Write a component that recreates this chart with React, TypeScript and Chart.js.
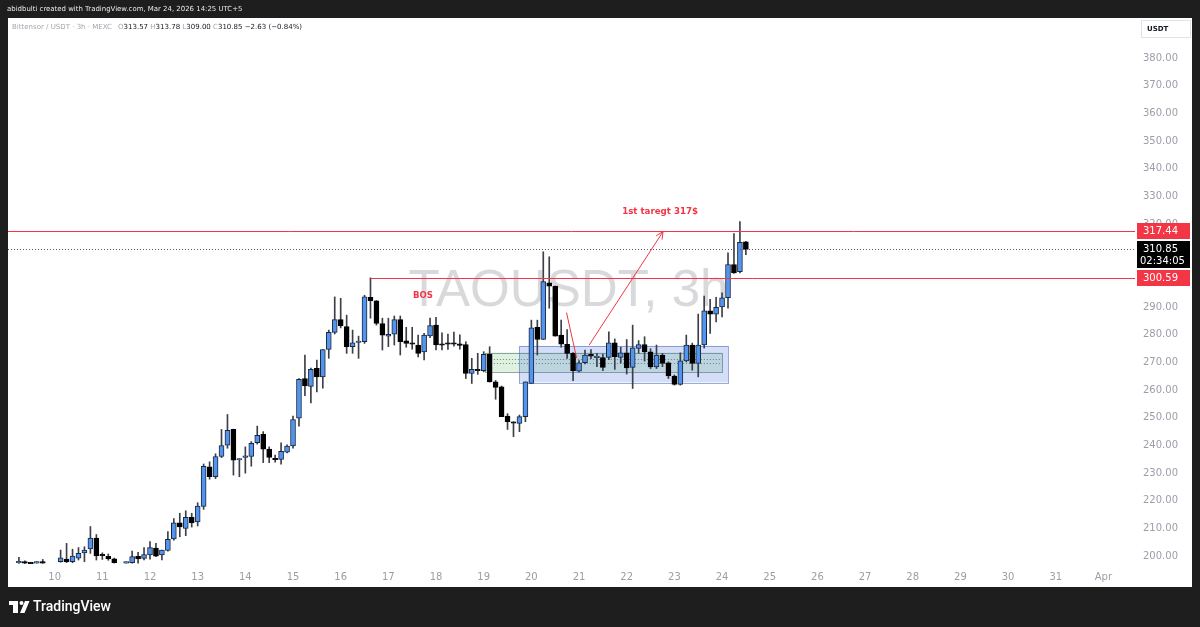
import React, { useEffect, useRef } from 'react';
import { Chart, registerables } from 'chart.js';

Chart.register(...registerables);

// TAO/USDT 3h candles, index 0 = Mar 9 00:00, 8 candles per day
const opens: (number | null)[] = [
  null, null, 197.6, 198.0, 197.6, 197.7, 197.9, null, null, 198.0,
  198.9, 198.0, 199.3, 201.2, 202.6, 206.5, 200.5, 199.9, 199.0, null,
  197.7, 197.6, 199.9, 199.2, 200.4, 202.9, 200.4, 202.1, 206.2, 212.0,
  210.0, 214.0, 212.4, 218.0, 232.3, 228.7, 236.0, 240.1, 245.8, 234.9,
  235.7, 236.0, 241.0, 244.0, 238.7, 235.2, 235.0, 237.6, 239.8, 249.9,
  264.2, 261.3, 267.9, 264.8, 274.7, 280.9, 285.5, 283.0, 275.7, 277.3,
  277.5, 293.5, 292.3, 284.1, 279.5, 280.2, 285.5, 277.8, 276.9, 276.3,
  273.8, 279.6, 283.5, 276.6, 276.9, 276.9, 276.5, 276.5, 266.0, 267.5,
  267.0, 272.9, 263.0, 261.2, 250.6, 248.4, 248.0, 250.4, 262.4, 282.7,
  278.3, 298.8, 297.6, 279.9, 276.6, 273.3, 266.9, 269.9, 272.9, 271.8,
  271.8, 271.8, 277.1, 271.8, 273.5, 268.2, 275.1, 276.5, 273.8, 268.4,
  272.7, 269.9, 265.1, 262.1, 270.6, 276.3, 269.7, 276.3, 288.7, 287.5,
  290.1, 293.4, 305.4, 302.8, 313.57,
];
const highs: (number | null)[] = [
  null, null, 199.6, 198.3, 197.8, 198.0, 198.8, null, null, 202.2,
  204.6, 202.5, 203.1, 203.4, 210.7, 207.8, 201.2, 200.8, 199.3, null,
  197.9, 201.8, 201.4, 203.1, 205.3, 204.6, 202.2, 208.9, 213.6, 215.5,
  216.4, 215.5, 219.3, 233.3, 234.1, 237.0, 245.8, 251.2, 245.9, 235.3,
  239.5, 241.4, 247.0, 245.0, 239.5, 236.5, 241.0, 240.2, 250.6, 264.2,
  272.7, 268.0, 270.9, 274.7, 281.7, 293.7, 293.2, 287.1, 281.7, 279.5,
  294.3, 300.59, 292.4, 286.0, 286.0, 286.8, 286.8, 282.7, 282.7, 279.9,
  280.5, 286.0, 286.3, 280.7, 280.3, 281.0, 280.0, 277.5, 271.5, 273.3,
  273.9, 275.7, 263.5, 261.5, 251.5, 248.6, 251.0, 263.0, 285.3, 285.3,
  310.0, 308.2, 297.6, 285.3, 281.9, 273.6, 270.7, 274.5, 274.7, 273.3,
  273.0, 281.1, 278.5, 275.5, 278.3, 283.5, 277.9, 279.3, 275.0, 276.3,
  273.3, 270.2, 265.5, 273.5, 279.9, 277.0, 287.5, 294.0, 292.8, 293.5,
  295.2, 309.6, 316.6, 320.9, 313.78,
];
const lows: (number | null)[] = [
  null, null, 197.4, 197.3, 197.3, 197.5, 197.4, null, null, 197.8,
  197.7, 197.6, 198.6, 198.0, 201.0, 198.6, 198.8, 198.5, 197.5, null,
  197.5, 197.5, 197.5, 198.6, 198.9, 199.8, 198.6, 201.8, 205.8, 207.0,
  207.4, 210.5, 210.9, 216.9, 227.8, 228.0, 235.6, 239.0, 229.3, 228.7,
  230.0, 232.5, 240.5, 233.8, 233.8, 234.0, 233.2, 237.3, 239.0, 247.0,
  258.0, 255.4, 259.4, 260.7, 271.5, 280.3, 282.5, 273.3, 273.3, 271.5,
  276.9, 286.0, 283.5, 274.5, 275.7, 276.3, 272.7, 275.5, 274.8, 272.0,
  270.9, 279.0, 274.5, 274.5, 274.7, 275.9, 274.8, 264.2, 262.4, 265.7,
  266.6, 262.9, 256.7, 250.4, 245.8, 243.2, 245.0, 248.6, 262.4, 272.7,
  278.3, 289.6, 279.5, 275.5, 271.5, 263.4, 266.6, 269.5, 271.4, 268.5,
  267.0, 271.0, 267.5, 269.8, 265.8, 260.6, 273.3, 270.5, 267.8, 267.8,
  268.5, 264.2, 261.8, 261.8, 270.2, 267.2, 264.8, 275.2, 280.5, 284.7,
  286.5, 289.6, 302.2, 302.4, 309.0,
];
const closes: (number | null)[] = [
  null, null, 198.1, 197.5, 197.5, 197.8, 197.6, null, null, 199.4,
  197.9, 200.0, 201.0, 202.2, 206.5, 200.1, 200.3, 199.0, 197.6, null,
  197.8, 199.8, 199.0, 200.6, 203.1, 200.0, 202.2, 206.1, 212.0, 210.6,
  214.0, 212.0, 218.1, 232.5, 228.7, 236.0, 240.0, 245.5, 234.7, 235.2,
  236.3, 240.8, 243.7, 238.7, 235.7, 235.0, 237.9, 239.8, 249.4, 263.9,
  261.5, 267.5, 264.8, 274.7, 280.9, 285.5, 283.2, 275.7, 277.1, 277.7,
  293.7, 292.3, 284.1, 279.9, 280.2, 285.5, 277.5, 276.9, 276.8, 273.3,
  279.9, 283.3, 276.3, 276.4, 276.8, 276.8, 276.4, 266.0, 267.5, 267.0,
  272.9, 263.0, 261.0, 250.4, 248.6, 248.2, 250.4, 263.0, 282.5, 278.3,
  299.2, 297.6, 279.5, 276.6, 273.3, 267.0, 269.9, 272.7, 272.3, 272.2,
  268.2, 277.1, 272.1, 273.5, 268.0, 275.3, 276.5, 273.8, 268.4, 272.7,
  269.7, 265.1, 262.1, 270.6, 276.3, 269.7, 276.3, 288.7, 287.5, 289.9,
  293.4, 305.4, 302.4, 313.4, 310.85,
];

const dayLabels = ['9', '10', '11', '12', '13', '14', '15', '16', '17', '18', '19', '20', '21', '22', '23', '24', '25', '26', '27', '28', '29', '30', '31', 'Apr'];
const CANDLES_PER_DAY = 8;

const resistanceLevel = 317.44;
const bosLevel = 300.59;
const bosStartIndex = 61;
const lastPrice = 310.85;
const countdown = '02:34:05';

// drawing annotations (candle index, price)
const bosLabel = { text: 'BOS', x: 69.8, y: 294.0 };
const targetLabel = { text: '1st taregt 317$', x: 109.6, y: 324.3 };
const pullbackLine = { x0: 93.9, y0: 288.0, x1: 95.6, y1: 271.6 };
const targetArrow = { x0: 97.7, y0: 276.3, x1: 110.1, y1: 317.3 };
const greenZone = { x0: 80.2, x1: 120.0, y0: 266.6, y1: 273.6 };
const blueZone = { x0: 86.0, x1: 121.0, y0: 262.8, y1: 276.0 };
const zoneMidLines = [271.4, 269.9];

const titleText = 'abidbulti created with TradingView.com, Mar 24, 2026 14:25 UTC+5';
const symbolText = 'Bittensor / USDT · 3h · MEXC';
const ohlcSegments: [string, boolean][] = [
  ['O', false], ['313.57', true], [' H', false], ['313.78', true], [' L', false], ['309.00', true], [' C', false], ['310.85', true], [' \u22122.63 (\u22120.84%)', true],
];
const watermarkText = 'TAOUSDT, 3h';

const RED = '#f23645';
const FONT = "'DejaVu Sans', sans-serif";

function fit(ctx: CanvasRenderingContext2D, text: string, width: number, family: string, weight = 'normal') {
  ctx.font = `${weight} 100px ${family}`;
  const w = ctx.measureText(text).width;
  const size = (100 * width) / w;
  ctx.font = `${weight} ${size}px ${family}`;
  return size;
}

function arrowHead(ctx: CanvasRenderingContext2D, x0: number, y0: number, x1: number, y1: number) {
  const ang = Math.atan2(y1 - y0, x1 - x0);
  const len = 8;
  ctx.beginPath();
  ctx.moveTo(x1 - len * Math.cos(ang - 0.45), y1 - len * Math.sin(ang - 0.45));
  ctx.lineTo(x1, y1);
  ctx.lineTo(x1 - len * Math.cos(ang + 0.45), y1 - len * Math.sin(ang + 0.45));
  ctx.stroke();
}

const overlayPlugin = {
  id: 'overlay',
  beforeDraw(chart: any) {
    const { ctx } = chart;
    ctx.save();
    ctx.fillStyle = '#1e1e1e';
    ctx.fillRect(0, 0, 1200, 627);
    ctx.fillStyle = '#ffffff';
    ctx.fillRect(8, 18, 1184, 569);
    ctx.restore();
  },
  beforeDatasetsDraw(chart: any) {
    const { ctx, chartArea: a } = chart;
    const x = chart.scales.x;
    const y = chart.scales.y;
    ctx.save();
    ctx.beginPath();
    ctx.rect(a.left, a.top, a.right - a.left, a.bottom - a.top);
    ctx.clip();
    // watermark
    ctx.fillStyle = 'rgba(140,140,148,0.33)';
    fit(ctx, watermarkText, 320, "'Liberation Sans', sans-serif");
    ctx.textAlign = 'center';
    ctx.textBaseline = 'middle';
    ctx.fillText(watermarkText, (a.left + a.right) / 2 - 3, (a.top + a.bottom) / 2);
    // green zone
    const gx0 = x.getPixelForValue(greenZone.x0), gx1 = x.getPixelForValue(greenZone.x1);
    const gy0 = y.getPixelForValue(greenZone.y1), gy1 = y.getPixelForValue(greenZone.y0);
    ctx.fillStyle = 'rgba(76,175,80,0.18)';
    ctx.fillRect(gx0, gy0, gx1 - gx0, gy1 - gy0);
    ctx.strokeStyle = 'rgba(110,135,140,0.75)';
    ctx.lineWidth = 1;
    ctx.strokeRect(Math.round(gx0) + 0.5, Math.round(gy0) + 0.5, Math.round(gx1 - gx0), Math.round(gy1 - gy0));
    // mid dotted lines
    ctx.setLineDash([1, 2]);
    ctx.strokeStyle = 'rgba(90,100,110,0.8)';
    zoneMidLines.forEach((p) => {
      const py = Math.round(y.getPixelForValue(p)) + 0.5;
      ctx.beginPath();
      ctx.moveTo(gx0, py);
      ctx.lineTo(gx1, py);
      ctx.stroke();
    });
    ctx.setLineDash([]);
    // blue zone
    const bx0 = x.getPixelForValue(blueZone.x0), bx1 = x.getPixelForValue(blueZone.x1);
    const by0 = y.getPixelForValue(blueZone.y1), by1 = y.getPixelForValue(blueZone.y0);
    ctx.fillStyle = 'rgba(60,110,220,0.22)';
    ctx.fillRect(bx0, by0, bx1 - bx0, by1 - by0);
    ctx.strokeStyle = 'rgba(70,100,190,0.55)';
    ctx.strokeRect(Math.round(bx0) + 0.5, Math.round(by0) + 0.5, Math.round(bx1 - bx0), Math.round(by1 - by0));
    ctx.restore();
  },
  afterDatasetsDraw(chart: any) {
    const { ctx, chartArea: a } = chart;
    const x = chart.scales.x;
    const y = chart.scales.y;
    ctx.save();
    ctx.beginPath();
    ctx.rect(a.left, a.top, a.right - a.left, a.bottom - a.top);
    ctx.clip();
    ctx.lineWidth = 1;
    // current price dotted line
    const lp = Math.round(y.getPixelForValue(lastPrice)) + 0.5;
    ctx.strokeStyle = '#555a66';
    ctx.setLineDash([1, 2]);
    ctx.beginPath();
    ctx.moveTo(a.left, lp);
    ctx.lineTo(a.right, lp);
    ctx.stroke();
    ctx.setLineDash([]);
    // resistance
    ctx.strokeStyle = RED;
    const rp = Math.round(y.getPixelForValue(resistanceLevel)) + 0.5;
    ctx.beginPath();
    ctx.moveTo(a.left, rp);
    ctx.lineTo(a.right, rp);
    ctx.stroke();
    // BOS line
    const bp = Math.round(y.getPixelForValue(bosLevel)) + 0.5;
    ctx.beginPath();
    ctx.moveTo(Math.round(x.getPixelForValue(bosStartIndex)) + 0.5, bp);
    ctx.lineTo(a.right, bp);
    ctx.stroke();
    // pullback line
    ctx.beginPath();
    ctx.moveTo(x.getPixelForValue(pullbackLine.x0), y.getPixelForValue(pullbackLine.y0));
    ctx.lineTo(x.getPixelForValue(pullbackLine.x1), y.getPixelForValue(pullbackLine.y1));
    ctx.stroke();
    // target arrow
    const ax0 = x.getPixelForValue(targetArrow.x0), ay0 = y.getPixelForValue(targetArrow.y0);
    const ax1 = x.getPixelForValue(targetArrow.x1), ay1 = y.getPixelForValue(targetArrow.y1);
    ctx.beginPath();
    ctx.moveTo(ax0, ay0);
    ctx.lineTo(ax1, ay1);
    ctx.stroke();
    arrowHead(ctx, ax0, ay0, ax1, ay1);
    // texts
    ctx.fillStyle = RED;
    ctx.textAlign = 'center';
    ctx.textBaseline = 'middle';
    fit(ctx, bosLabel.text, 20, FONT, 'bold');
    ctx.fillText(bosLabel.text, x.getPixelForValue(bosLabel.x), y.getPixelForValue(bosLabel.y));
    fit(ctx, targetLabel.text, 76, FONT, 'bold');
    ctx.fillText(targetLabel.text, x.getPixelForValue(targetLabel.x), y.getPixelForValue(targetLabel.y));
    ctx.restore();
  },
  afterDraw(chart: any) {
    const { ctx } = chart;
    const y = chart.scales.y;
    ctx.save();
    // price axis labels
    const boxX = 1137, boxW = 53;
    const tag = (price: number, text: string, bg: string) => {
      const py = y.getPixelForValue(price);
      ctx.fillStyle = bg;
      ctx.fillRect(boxX, Math.round(py) - 8, boxW, 16);
      ctx.fillStyle = '#ffffff';
      ctx.font = `10px ${FONT}`;
      ctx.textAlign = 'left';
      ctx.textBaseline = 'middle';
      ctx.fillText(text, boxX + 6, Math.round(py) + 0.5);
    };
    tag(resistanceLevel, resistanceLevel.toFixed(2), RED);
    tag(bosLevel, bosLevel.toFixed(2), RED);
    const lpy = Math.round(y.getPixelForValue(lastPrice));
    ctx.fillStyle = '#000000';
    ctx.fillRect(boxX, lpy - 8, boxW, 27);
    ctx.fillStyle = '#ffffff';
    ctx.font = `10px ${FONT}`;
    ctx.textAlign = 'left';
    ctx.textBaseline = 'middle';
    ctx.fillText(lastPrice.toFixed(2), boxX + 6, lpy + 0.5);
    ctx.fillText(countdown, boxX + 3, lpy + 12.5);
    // USDT box
    ctx.fillStyle = '#ffffff';
    ctx.strokeStyle = '#e0e3eb';
    ctx.lineWidth = 1;
    ctx.fillRect(1141, 20, 50, 18);
    ctx.strokeRect(1141.5, 20.5, 49, 17);
    ctx.fillStyle = '#131722';
    ctx.font = `bold 7px ${FONT}`;
    ctx.fillText('USDT', 1147, 29.5);
    // top bar title
    ctx.fillStyle = '#e8e8e8';
    fit(ctx, titleText, 236, FONT);
    ctx.textBaseline = 'middle';
    ctx.fillText(titleText, 7, 9);
    // symbol header
    const s = fit(ctx, symbolText, 100, FONT);
    ctx.fillStyle = '#a3a6af';
    ctx.fillText(symbolText, 12, 27);
    ctx.font = `${s}px ${FONT}`;
    let cx = 118;
    ohlcSegments.forEach(([t, dark]) => {
      ctx.fillStyle = dark ? '#131722' : '#a3a6af';
      ctx.fillText(t, cx, 27);
      cx += ctx.measureText(t).width;
    });
    // footer logo
    ctx.fillStyle = '#ffffff';
    ctx.fillRect(9, 601, 9, 4);
    ctx.fillRect(13, 601, 5, 12);
    ctx.beginPath();
    ctx.arc(21.5, 603, 2, 0, Math.PI * 2);
    ctx.fill();
    ctx.beginPath();
    ctx.moveTo(25, 601);
    ctx.lineTo(29.5, 601);
    ctx.lineTo(24.5, 613);
    ctx.lineTo(20, 613);
    ctx.closePath();
    ctx.fill();
    fit(ctx, 'TradingView', 78, "'Roboto', sans-serif", '500');
    ctx.textBaseline = 'middle';
    ctx.fillText('TradingView', 33, 607.5);
    ctx.restore();
  },
};

export default function App() {
  const ref = useRef<HTMLCanvasElement>(null);
  useEffect(() => {
    const canvas = ref.current;
    if (!canvas) return;
    const idx = opens.map((_, i) => i).filter((i) => opens[i] != null);
    const wickData = idx.map((i) => ({ x: i, y: [lows[i] as number, highs[i] as number] }));
    const bodyData = idx.map((i) => {
      const o = opens[i] as number;
      const c = closes[i] as number;
      if (Math.abs(o - c) < 0.5) {
        const m = (o + c) / 2;
        return { x: i, y: [m - 0.25, m + 0.25] };
      }
      return { x: i, y: [o, c] };
    });
    const up = idx.map((i) => (closes[i] as number) >= (opens[i] as number));
    const chart = new Chart(canvas, {
      type: 'bar',
      data: {
        datasets: [
          {
            label: 'wicks',
            data: wickData as any,
            backgroundColor: '#3c3f48',
            barThickness: 1,
            grouped: false,
            order: 2,
          } as any,
          {
            label: 'bodies',
            data: bodyData as any,
            backgroundColor: up.map((u) => (u ? '#5394ec' : '#000000')),
            borderColor: up.map((u) => (u ? '#1b2740' : '#000000')),
            borderWidth: 1,
            borderSkipped: false,
            barThickness: 5,
            grouped: false,
            order: 1,
          } as any,
        ],
      },
      options: {
        responsive: false,
        animation: false,
        devicePixelRatio: 1,
        layout: { padding: { left: 8, top: 18, right: 8, bottom: 40 } },
        plugins: { legend: { display: false }, tooltip: { enabled: false } },
        scales: {
          x: {
            type: 'linear',
            min: 0.17,
            max: 189.3,
            offset: false,
            grid: { display: false, drawTicks: false },
            border: { display: false },
            ticks: {
              stepSize: CANDLES_PER_DAY,
              includeBounds: false,
              autoSkip: false,
              maxRotation: 0,
              color: '#9a9ea8',
              font: { family: FONT, size: 10 },
              padding: 6,
              callback: (v: any) => dayLabels[Math.round(Number(v) / CANDLES_PER_DAY)] ?? '',
            },
            afterFit: (s: any) => {
              s.height = 22;
            },
          },
          y: {
            type: 'linear',
            position: 'right',
            min: 196.8,
            max: 394.5,
            grid: { display: false, drawTicks: false },
            border: { display: false },
            ticks: {
              stepSize: 10,
              includeBounds: false,
              color: '#9a9ea8',
              font: { family: FONT, size: 10 },
              padding: 8,
              callback: (v: any) => (Number(v) > 385 ? '' : Number(v).toFixed(2)),
            },
            afterFit: (s: any) => {
              s.width = 57;
            },
          },
        },
      } as any,
      plugins: [overlayPlugin as any],
    });
    return () => chart.destroy();
  }, []);
  return (
    <div style={{ position: 'fixed', left: 0, top: 0, width: 1200, height: 627 }}>
      <canvas ref={ref} width={1200} height={627} style={{ display: 'block', width: 1200, height: 627 }} />
    </div>
  );
}
